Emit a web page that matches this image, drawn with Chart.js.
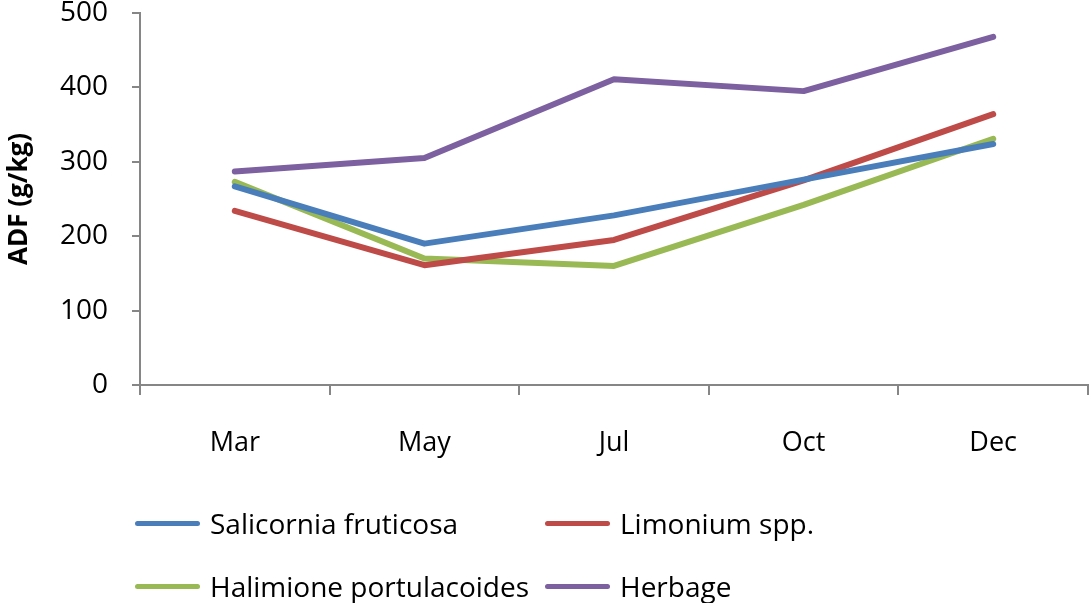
<!DOCTYPE html>
<html>
<head>
<meta charset="utf-8">
<script src="https://cdn.jsdelivr.net/npm/chart.js@4/dist/chart.umd.min.js"></script>
<style>
body { margin:0; background:#fff; }
#wrap { position:relative; width:1092px; height:603px; }
#adf { position:absolute; left:0; top:0; }
#legend { position:absolute; left:135px; top:0; font-family:"Open Sans", sans-serif; font-size:28px; color:#000; }
.item { position:absolute; display:flex; align-items:center; white-space:nowrap; height:40px; }
.item span.ln { display:inline-block; width:65px; height:5px; border-radius:3px; margin-right:10px; }
</style>
</head>
<body>
<div id="wrap">
<canvas id="adf" width="1092" height="603"></canvas>
<div id="legend"></div>
</div>
<script>
var months=["Mar","May","Jul","Oct","Dec"];
var salicornia=[267,190,228,276,324];
var limonium=[234,161,195,275,364];
var halimione=[273,170,160,242,331];
var herbage=[287,305,411,395,468];
var seriesNames=["Salicornia fruticosa","Limonium spp.","Halimione portulacoides","Herbage"];
var seriesColors=["#4A7EBB","#BE4B48","#98B954","#7D60A0"];

var fam='"Open Sans", sans-serif';
var axisGrey="#868686";

function mkSet(i, vals) {
	return {
		label: seriesNames[i],
		data: vals,
		borderColor: seriesColors[i],
		backgroundColor: seriesColors[i],
		borderWidth: 6,
		borderCapStyle: 'round',
		borderJoinStyle: 'round',
		pointRadius: 0,
		tension: 0,
		fill: false
	};
}

var chartData={
	labels: months,
	datasets: [mkSet(0, salicornia), mkSet(1, limonium), mkSet(2, halimione), mkSet(3, herbage)]
};

var chart=new Chart(document.getElementById('adf').getContext('2d'), {
	type: 'line',
	data: chartData,
	options: {
		responsive: false,
		animation: false,
		layout: { padding: { top: 13, right: 4, bottom: 138, left: 0 } },
		plugins: { legend: { display: false }, tooltip: { enabled: false } },
		scales: {
			x: {
				offset: true,
				grid: { offset: true, drawOnChartArea: false, drawTicks: true, tickLength: 10, color: axisGrey, lineWidth: 2 },
				border: { color: axisGrey, width: 2 },
				ticks: { color: "#000", font: { family: fam, size: 27 }, padding: 32, maxRotation: 0 },
				afterFit: function(s) { s.height = 80; }
			},
			y: {
				min: 0, max: 500,
				grid: { drawOnChartArea: false, drawTicks: true, tickLength: 8, color: axisGrey, lineWidth: 2 },
				border: { color: axisGrey, width: 2 },
				ticks: { stepSize: 100, color: "#000", font: { family: fam, size: 28 }, padding: 24 },
				title: { display: true, text: "ADF (g/kg)", color: "#000", font: { family: fam, size: 26, weight: 'bold' }, padding: { top: 4, bottom: 4 } },
				afterFit: function(s) {
					s.width = 140;
					// tick padding would otherwise push the plot down
					s.paddingTop = 0;
					s.paddingBottom = 0;
				}
			}
		}
	}
});

// legend as a 2x2 grid, like the original
var lg=document.getElementById('legend');
var pos=[[0,503],[410,503],[0,566],[410,566]];
for (var i=0; i<seriesNames.length; i++) {
	var d=document.createElement('div');
	d.className='item';
	d.style.left=pos[i][0]+'px';
	d.style.top=pos[i][1]+'px';
	var ln=document.createElement('span');
	ln.className='ln';
	ln.style.background=seriesColors[i];
	d.appendChild(ln);
	d.appendChild(document.createTextNode(seriesNames[i]));
	lg.appendChild(d);
}
</script>
</body>
</html>
